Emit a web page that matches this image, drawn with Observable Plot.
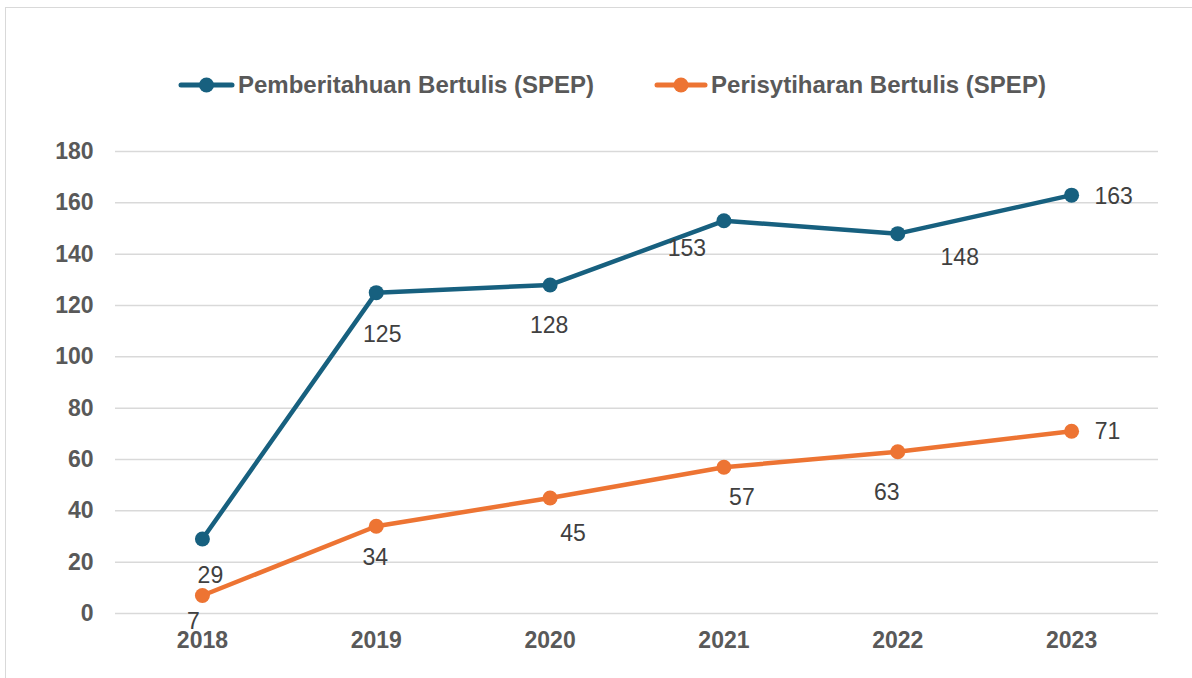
<!DOCTYPE html>
<html>
<head>
<meta charset="utf-8">
<script src="https://cdn.jsdelivr.net/npm/d3@7"></script>
<script src="https://cdn.jsdelivr.net/npm/@observablehq/plot@0.6"></script>
<style>
  html, body { margin: 0; padding: 0; background: #fff; overflow: hidden; }
  body { width: 1192px; height: 678px; position: relative; font-family: "Liberation Sans", Arial, sans-serif; }
  #frame { position: absolute; left: 5px; top: 7px; width: 1250px; height: 760px; border: 1.5px solid #d9d9d9; box-sizing: border-box; }
  #legend { position: absolute; left: 178px; top: 70px; height: 30px; display: flex; align-items: center; font-weight: bold; font-size: 24px; color: #595959; white-space: nowrap; }
  #legend .item { display: flex; align-items: center; }
  #legend svg { display: block; margin-right: 3px; }
  #chart { position: absolute; left: 0; top: 120px; }
</style>
</head>
<body>
<div id="frame"></div>
<div id="legend"></div>
<div id="chart"></div>
<script>
const years = ["2018", "2019", "2020", "2021", "2022", "2023"];
const seriesNames = ["Pemberitahuan Bertulis (SPEP)", "Perisytiharan Bertulis (SPEP)"];
const pemberitahuan = [29, 125, 128, 153, 148, 163];
const perisytiharan = [7, 34, 45, 57, 63, 71];
const yTicks = [0, 20, 40, 60, 80, 100, 120, 140, 160, 180];

const colors = ["#17607F", "#ED7433"];

// label placement (styling, not data)
const labelOffsets = [
  [[8, 37], [6, 42], [-1, 41], [-37, 28], [62, 24], [42, 1]],
  [[-9, 26], [-1, 31], [23, 36], [18, 30], [-11, 41], [36, 0]]
];

const rows = [];
[pemberitahuan, perisytiharan].forEach((vals, s) => {
  vals.forEach((v, i) => rows.push({ series: seriesNames[s], s, i, year: years[i], value: v }));
});

const labelMarks = [];
rows.forEach(r => {
  const [dx, dy] = labelOffsets[r.s][r.i];
  labelMarks.push(Plot.text([r], {
    x: "year", y: "value", text: d => String(d.value),
    dx, dy, fill: "#404040", fontSize: 23, textAnchor: "middle", lineAnchor: "middle"
  }));
});

const chart = Plot.plot({
  width: 1192,
  height: 558,
  marginTop: 31,
  marginBottom: 65,
  marginLeft: 115,
  marginRight: 34,
  style: { fontFamily: "'Liberation Sans', Arial, sans-serif", background: "transparent", overflow: "visible" },
  x: { type: "point", domain: years, padding: 0.5, round: false },
  y: { domain: [0, 180] },
  marks: [
    Plot.ruleY(yTicks, { stroke: "#d9d9d9", strokeWidth: 1.5 }),
    Plot.axisY({ ticks: yTicks, tickSize: 0, tickPadding: 22, fontSize: 23, fontWeight: "bold", fill: "#595959", label: null }),
    Plot.axisX({ tickSize: 0, tickPadding: 18, fontSize: 23, fontWeight: "bold", fill: "#595959", label: null }),
    Plot.line(rows, { x: "year", y: "value", z: "series", stroke: d => colors[d.s], strokeWidth: 4.5, strokeLinecap: "round", strokeLinejoin: "round" }),
    Plot.dot(rows, { x: "year", y: "value", fill: d => colors[d.s], r: 7.5, stroke: "none" }),
    ...labelMarks
  ]
});
document.getElementById("chart").appendChild(chart);

// legend
const legend = document.getElementById("legend");
seriesNames.forEach((name, s) => {
  const item = document.createElement("div");
  item.className = "item";
  if (s === 1) item.style.marginLeft = "60px";
  const ns = "http://www.w3.org/2000/svg";
  const w = s === 0 ? 57 : 54;
  const sw = document.createElementNS(ns, "svg");
  sw.setAttribute("width", w);
  sw.setAttribute("height", 20);
  const ln = document.createElementNS(ns, "line");
  ln.setAttribute("x1", 3); ln.setAttribute("x2", w - 3);
  ln.setAttribute("y1", 10); ln.setAttribute("y2", 10);
  ln.setAttribute("stroke", colors[s]); ln.setAttribute("stroke-width", 5);
  ln.setAttribute("stroke-linecap", "round");
  const c = document.createElementNS(ns, "circle");
  c.setAttribute("cx", w / 2); c.setAttribute("cy", 10); c.setAttribute("r", 7.5);
  c.setAttribute("fill", colors[s]);
  sw.appendChild(ln); sw.appendChild(c);
  const t = document.createElement("span");
  t.textContent = name;
  item.appendChild(sw); item.appendChild(t);
  legend.appendChild(item);
});
</script>
</body>
</html>
